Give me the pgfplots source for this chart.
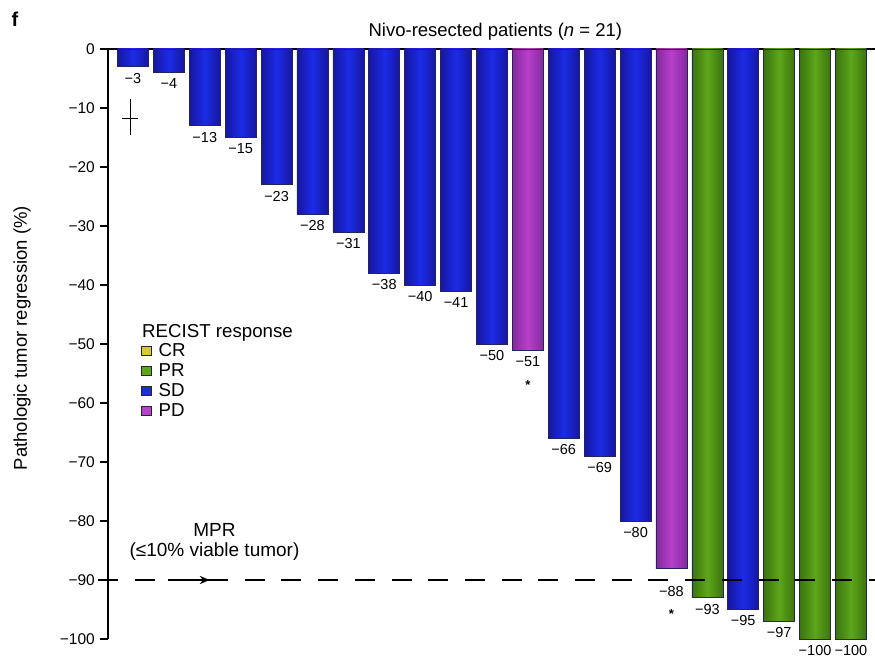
\documentclass[border=0pt]{standalone}
\usepackage{pgfplots}
\pgfplotsset{compat=1.18}
\usepackage{fontspec}
\setmainfont{Liberation Sans}
\usetikzlibrary{arrows.meta}
\definecolor{bmid}{HTML}{1C2CE6}
\definecolor{bedge}{HTML}{1616A0}
\definecolor{gmid}{HTML}{5DA61A}
\definecolor{gedge}{HTML}{3C740E}
\definecolor{pmid}{HTML}{B541CC}
\definecolor{pedge}{HTML}{86289C}
\definecolor{ymid}{HTML}{D8CC1E}
\definecolor{navy}{HTML}{23235E}

\pgfplotsset{
  mybar/.style={ybar, bar width=31pt, bar shift=0pt, draw=navy, line width=0.7pt,
    point meta=explicit symbolic, nodes near coords,
    every node near coord/.append style={font=\fontsize{14.5}{16}\selectfont, inner sep=0pt, anchor=north, yshift=-6pt, black},
    forget plot},
  SD/.style={mybar, left color=bedge, right color=bedge, middle color=bmid},
  PD/.style={mybar, left color=pedge, right color=pedge, middle color=pmid},
  PR/.style={mybar, left color=gedge, right color=gedge, middle color=gmid},
}

\begin{document}
\begin{tikzpicture}
\useasboundingbox (-108pt,-20pt) rectangle (767pt,639pt);
\begin{axis}[
  at={(0pt,0pt)}, anchor=south west,
  scale only axis, width=767pt, height=590pt,
  xmin=-0.696, xmax=20.67, ymin=-100, ymax=0,
  axis x line*=top, axis y line*=left,
  xtick=\empty,
  ytick={-100,-90,...,0},
  yticklabels={−100,−90,−80,−70,−60,−50,−40,−30,−20,−10,0},
  tick align=outside, major tick length=8pt,
  axis line style={line width=1.2pt, black},
  ytick style={line width=1.1pt, black},
  yticklabel style={font=\fontsize{15.5}{18}\selectfont, inner sep=0pt, xshift=-5pt},
  ylabel={Pathologic tumor regression (\%)},
  ylabel style={font=\fontsize{18.5}{21}\selectfont, at={(axis description cs:-0.112,0.51)}, anchor=center, rotate=0},
  clip=false,
  legend style={at={(axis cs:0.223,-49.8)}, anchor=north west, draw=none, fill=none, inner sep=0pt,
    row sep=3pt, font=\fontsize{18.7}{20}\selectfont,
    nodes={inner sep=0pt, text height=13pt, text depth=4pt},
    /tikz/every odd column/.append style={column sep=7pt}},
  legend cell align=left,
  legend image code/.code={\draw[#1, draw=black!85, line width=1pt] (0pt,-4pt) rectangle (9.5pt,5.5pt);},
]
\addlegendimage{fill=ymid}\addlegendentry{CR}
\addlegendimage{fill=gmid}\addlegendentry{PR}
\addlegendimage{fill=bmid}\addlegendentry{SD}
\addlegendimage{fill=pmid}\addlegendentry{PD}

\addplot[SD] coordinates {(0,-3) [−3]};
\addplot[SD] coordinates {(1,-4) [−4]};
\addplot[SD] coordinates {(2,-13) [−13]};
\addplot[SD] coordinates {(3,-15) [−15]};
\addplot[SD] coordinates {(4,-23) [−23]};
\addplot[SD] coordinates {(5,-28) [−28]};
\addplot[SD] coordinates {(6,-31) [−31]};
\addplot[SD] coordinates {(7,-38) [−38]};
\addplot[SD] coordinates {(8,-40) [−40]};
\addplot[SD] coordinates {(9,-41) [−41]};
\addplot[SD] coordinates {(10,-50) [−50]};
\addplot[PD] coordinates {(11,-51) [−51]};
\addplot[SD] coordinates {(12,-66) [−66]};
\addplot[SD] coordinates {(13,-69) [−69]};
\addplot[SD] coordinates {(14,-80) [−80]};
\addplot[PD, every node near coord/.append style={yshift=-12pt}] coordinates {(15,-88) [−88]};
\addplot[PR] coordinates {(16,-93) [−93]};
\addplot[SD] coordinates {(17,-95) [−95]};
\addplot[PR] coordinates {(18,-97) [−97]};
\addplot[PR] coordinates {(19,-100) [−100]};
\addplot[PR] coordinates {(20,-100) [−100]};

\addplot[black, line width=1.2pt, dash pattern=on 20pt off 16.7pt, forget plot] coordinates {(-0.975,-90) (20.67,-90)};
\addplot[black, line width=1.9pt, -{Stealth[length=10pt,width=8pt]}, forget plot] coordinates {(0.975,-90) (2.14,-90)};
\addplot[black, only marks, mark=|, mark size=18pt, mark options={line width=1pt}, forget plot] coordinates {(-0.08,-11.5)};
\addplot[black, only marks, mark=-, mark size=8pt, mark options={line width=1pt}, forget plot] coordinates {(-0.08,-11.7)};

\node[font=\bfseries\fontsize{20}{22}\selectfont] at (axis cs:-3.29,5.0) {f};
\node[font=\fontsize{18.5}{22}\selectfont] at (rel axis cs:0.505,1) [yshift=17pt] {Nivo-resected patients (\textit{n} = 21)};
\node[anchor=west, font=\fontsize{18.7}{20}\selectfont, inner sep=0pt] at (axis cs:0.25,-48.1) {RECIST response};
\node[align=center, font=\fontsize{19}{20}\selectfont] at (axis cs:2.27,-83.6) {MPR\\(≤10\% viable tumor)};
\node[font=\bfseries\fontsize{13}{13}\selectfont] at (axis cs:11,-51) [yshift=-35pt] {*};
\node[font=\bfseries\fontsize{13}{13}\selectfont] at (axis cs:15,-88) [yshift=-46pt] {*};
\end{axis}
\end{tikzpicture}
\end{document}
